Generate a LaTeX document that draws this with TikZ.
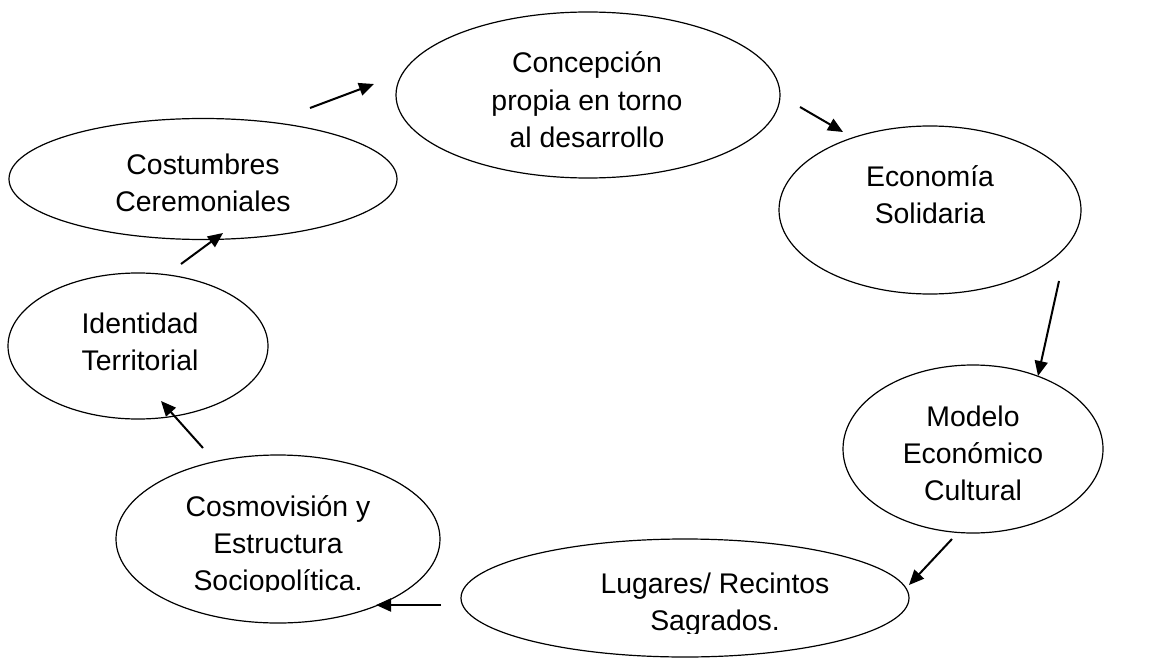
\documentclass[tikz,border=0pt]{standalone}
\usepackage{fontspec}
\setmainfont{Liberation Sans}
\usetikzlibrary{arrows.meta,shapes.geometric}
\begin{document}
\begin{tikzpicture}[x=1pt,y=-1pt,
  oval/.style={draw,ellipse,line width=1.2pt,inner sep=0pt},
  lbl/.style={align=center,font=\fontsize{28.4}{37}\selectfont,inner sep=0pt,anchor=base},
  arr/.style={line width=2pt,-{Triangle[length=15pt,width=13pt]}}]
\useasboundingbox (0,0) rectangle (1166,658);
% ellipses
\node[oval,minimum width=384pt,minimum height=166pt] (conc) at (588,95) {};
\node[oval,minimum width=302pt,minimum height=168pt] (econ) at (930,210) {};
\node[oval,minimum width=260pt,minimum height=168pt] (mod) at (973,449) {};
\node[oval,minimum width=448pt,minimum height=118pt] (lug) at (685,598) {};
\node[oval,minimum width=324pt,minimum height=168pt] (cosmo) at (278,539) {};
\node[oval,minimum width=260pt,minimum height=146pt] (iden) at (138,346) {};
\node[oval,minimum width=388pt,minimum height=121pt] (cost) at (203,179) {};
% labels (anchor = baseline of last line)
\node[lbl] (tconc) at (587,147) {Concepción\\propia en torno\\al desarrollo};
\node[lbl] (tecon) at (930,223) {Economía\\Solidaria};
\node[lbl] (tmod) at (973,500) {Modelo\\Económico\\Cultural};
\begin{scope}
\clip (460,540) rectangle (910,633);
\node[lbl] (tlug) at (715,630) {Lugares/ Recintos\\Sagrados.};
\end{scope}
\begin{scope}
\clip (110,450) rectangle (445,591);
\node[lbl] (tcosmo) at (278,590) {Cosmovisión y\\Estructura\\Sociopolítica.};
\end{scope}
\node[lbl] (tiden) at (140,370) {Identidad\\Territorial};
\node[lbl] (tcost) at (203,211) {Costumbres\\Ceremoniales};
% arrow end points
\coordinate (a1s) at (310,108); \coordinate (a1e) at (374,84);
\coordinate (a2s) at (800,107); \coordinate (a2e) at (843,132);
\coordinate (a3s) at (1059,281); \coordinate (a3e) at (1038,376);
\coordinate (a4s) at (952,539); \coordinate (a4e) at (909,585);
\coordinate (a5s) at (441,605); \coordinate (a5e) at (376,605);
\coordinate (a6s) at (203,448); \coordinate (a6e) at (161,401);
\coordinate (a7s) at (181,264); \coordinate (a7e) at (223,233);
\draw[arr] (a1s) -- (a1e);
\draw[arr] (a2s) -- (a2e);
\draw[arr] (a3s) -- (a3e);
\draw[arr] (a4s) -- (a4e);
\draw[arr] (a5s) -- (a5e);
\draw[arr] (a6s) -- (a6e);
\draw[arr] (a7s) -- (a7e);
\end{tikzpicture}
\end{document}
